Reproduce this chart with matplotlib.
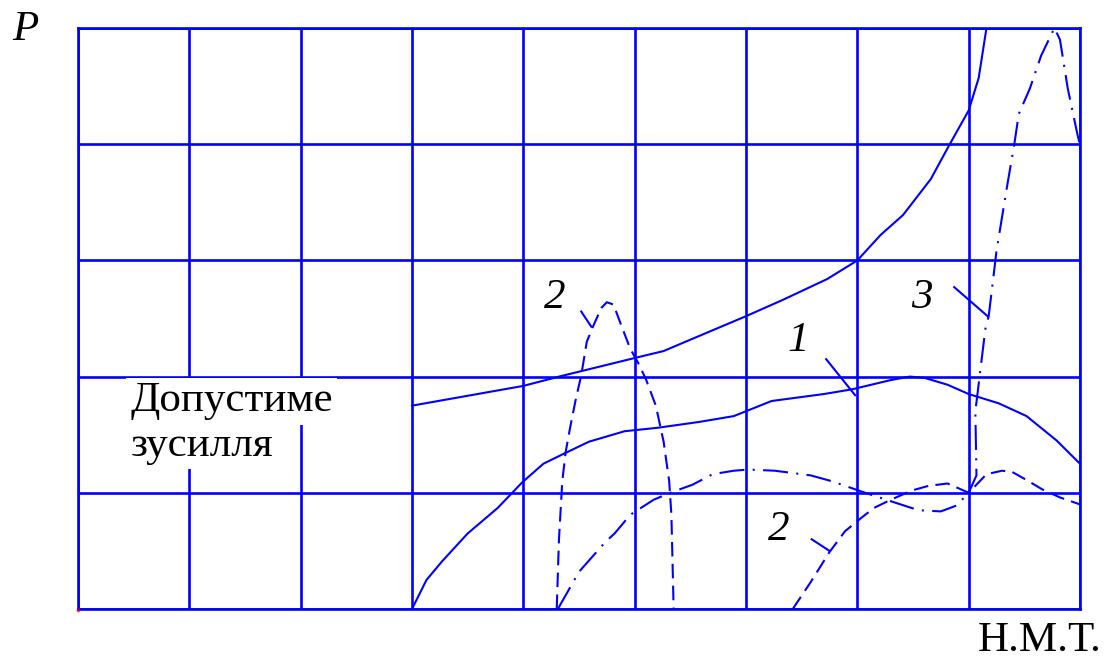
import matplotlib
matplotlib.use("Agg")
import matplotlib.pyplot as plt

# curve 1 (upper solid) - allowable force
allow_x = [3.0, 4.0, 4.32, 5.0, 5.26, 5.58, 6.0, 6.33, 6.73, 7.0, 7.21, 7.41, 7.66, 7.83, 8.0, 8.09, 8.16]
allow_y = [1.75, 1.92, 2.0, 2.16, 2.22, 2.35, 2.52, 2.66, 2.84, 3.0, 3.22, 3.39, 3.70, 4.0, 4.29, 4.57, 5.0]

# curve "1" (lower solid)
c1_x = [3.0, 3.13, 3.27, 3.50, 3.77, 3.99, 4.18, 4.35, 4.59, 4.91, 5.21, 5.58, 5.89, 6.23, 6.70,
        6.95, 7.30, 7.47, 7.60, 7.81, 8.0, 8.27, 8.52, 8.79, 9.0]
c1_y = [0.0, 0.25, 0.41, 0.65, 0.87, 1.09, 1.25, 1.33, 1.44, 1.53, 1.56, 1.61, 1.66, 1.79, 1.85,
        1.89, 1.97, 2.0, 1.99, 1.93, 1.85, 1.77, 1.66, 1.45, 1.25]

# curve "2" (dashed): hump on the left, then the right branch
c2a_x = [4.30, 4.32, 4.35, 4.38, 4.42, 4.47, 4.52, 4.57, 4.63, 4.70, 4.75, 4.81, 4.88, 4.96, 5.03,
         5.10, 5.19, 5.26, 5.31, 5.33, 5.35]
c2a_y = [0.0, 0.60, 1.10, 1.35, 1.56, 1.80, 2.01, 2.30, 2.44, 2.59, 2.64, 2.62, 2.44, 2.24, 2.12,
         1.98, 1.75, 1.44, 1.10, 0.81, 0.0]
c2b_x = [6.42, 6.58, 6.75, 6.89, 7.03, 7.15, 7.30, 7.49, 7.64, 7.81, 7.93, 8.0,
         8.16, 8.30, 8.39, 8.52, 8.66, 8.82, 9.0]
c2b_y = [0.0, 0.23, 0.49, 0.67, 0.78, 0.87, 0.94, 1.02, 1.06, 1.08, 1.03, 1.0,
         1.16, 1.19, 1.18, 1.11, 1.03, 0.96, 0.90]

# curve "3" (dash-dot)
c3_x = [4.31, 4.50, 4.74, 4.82, 4.96, 5.17, 5.32, 5.52, 5.70, 5.89, 6.02, 6.26, 6.58, 6.77, 6.95,
        7.04, 7.26, 7.55, 7.75, 7.89, 8.0, 8.07, 8.06, 8.15, 8.18, 8.25, 8.34, 8.41, 8.45,
        8.55, 8.65, 8.75, 8.77, 8.82, 8.89, 8.98, 9.0]
c3_y = [0.0, 0.32, 0.58, 0.65, 0.81, 0.94, 1.0, 1.07, 1.16, 1.19, 1.20, 1.19, 1.15, 1.10, 1.04,
        1.01, 0.94, 0.85, 0.84, 0.89, 1.0, 1.15, 1.70, 2.41, 2.52, 3.08, 3.61, 4.0, 4.26,
        4.48, 4.76, 4.96, 5.0, 4.9, 4.48, 4.07, 4.0]

# curve labels: text, position, leader line start/end
labels = ["2", "1", "2", "3"]
label_pos = [(4.28, 2.59), (6.47, 2.22), (6.29, 0.59), (7.58, 2.59)]
leader_from = [(4.52, 2.56), (6.72, 2.15), (6.59, 0.60), (7.87, 2.77)]
leader_to = [(4.61, 2.43), (6.98, 1.84), (6.75, 0.50), (8.17, 2.52)]

blue = (0, 0, 1)
serif = ["Liberation Serif", "DejaVu Serif"]
fs = 31

fig = plt.figure(figsize=(11.1, 6.61), dpi=100)
ax = fig.add_axes([78 / 1110, 52 / 661, 1002 / 1110, 581 / 661])
ax.set_xlim(0, 9)
ax.set_ylim(0, 5)
ax.set_xticks(range(10))
ax.set_yticks(range(6))
ax.tick_params(length=0, labelbottom=False, labelleft=False)
ax.set_axisbelow(True)
ax.grid(True, color=blue, lw=1.9)
for s in ax.spines.values():
    s.set_color(blue)
    s.set_linewidth(1.9)

ax.plot(allow_x, allow_y, color=blue, lw=1.5, zorder=3)
ax.plot(c1_x, c1_y, color=blue, lw=1.5, zorder=3)
ax.plot(c2a_x, c2a_y, color=blue, lw=1.5, dashes=(7, 3.5), zorder=3)
ax.plot(c2b_x, c2b_y, color=blue, lw=1.5, dashes=(7, 3.5), zorder=3)
ax.plot(c3_x, c3_y, color=blue, lw=1.5, dashes=(12, 4, 1, 4), zorder=3)

for t, p, a, b in zip(labels, label_pos, leader_from, leader_to):
    ax.text(p[0], p[1], t, ha="center", va="baseline", fontsize=fs,
            family=serif, style="italic", zorder=4)
    ax.plot([a[0], b[0]], [a[1], b[1]], color=blue, lw=1.5, zorder=3)

box = dict(facecolor="white", edgecolor="none", pad=3)
ax.text(0.47, 1.70, "Допустиме", ha="left", va="baseline", fontsize=fs,
        family=serif, bbox=box, zorder=4)
ax.text(0.47, 1.32, "зусилля", ha="left", va="baseline", fontsize=fs,
        family=serif, bbox=box, zorder=4)

ax.plot([0], [-0.01], marker="o", ms=2, color="red", alpha=0.5, clip_on=False, zorder=5)

fig.text(12 / 1110, 1 - 40 / 661, "P", fontsize=fs, family=serif, style="italic",
         ha="left", va="baseline")
fig.text(1102 / 1110, 1 / 661, "Н.М.Т.", fontsize=fs, family=serif,
         ha="right", va="bottom")

fig.savefig("out.png", dpi=100)
